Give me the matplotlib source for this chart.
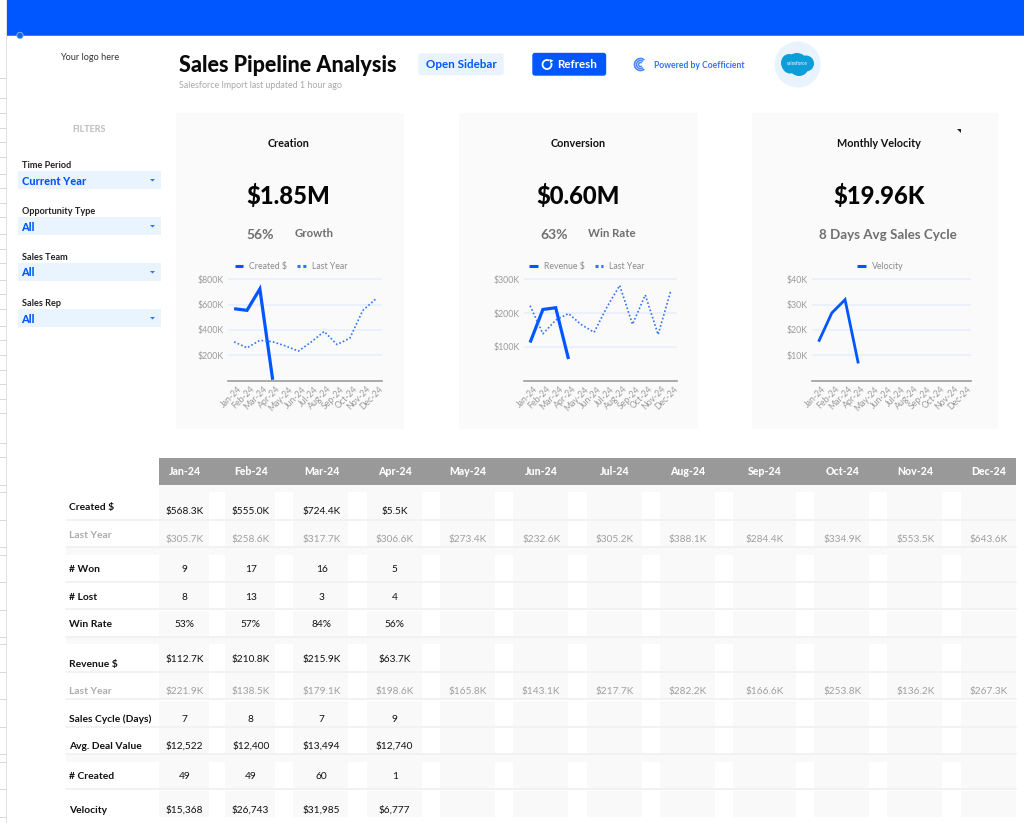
from __future__ import annotations

import matplotlib

matplotlib.use("Agg")
import matplotlib.pyplot as plt
from matplotlib.patches import Arc, Circle, Ellipse, FancyBboxPatch, Polygon, Rectangle
from matplotlib.transforms import ScaledTranslation

plt.rcParams["font.family"] = ["Lato", "DejaVu Sans"]

WIDTH, HEIGHT = 1024, 823
BLUE = "#0057ff"
LIGHT_BLUE = "#e8f3fe"
DARK = "#111111"
GREY = "#6f6f6f"
PALE = "#ababab"

MONTHS = ["Jan-24", "Feb-24", "Mar-24", "Apr-24", "May-24", "Jun-24",
          "Jul-24", "Aug-24", "Sep-24", "Oct-24", "Nov-24", "Dec-24"]

# chart values, in dollars
created = [568300, 555000, 724400, 5500]
created_last_year = [305700, 258600, 317700, 306600, 273400, 232600,
                     305200, 388100, 284400, 334900, 553500, 643600]
revenue = [112700, 210800, 215900, 63700]
revenue_last_year = [221900, 138500, 179100, 198600, 165800, 143100,
                     217700, 282200, 166600, 253800, 136200, 267300]
velocity = [15368, 26743, 31985, 6777]

# table rows
row_labels = ["Created $", "Last Year", "# Won", "# Lost", "Win Rate", "Revenue $",
              "Last Year", "Sales Cycle (Days)", "Avg. Deal Value", "# Created", "Velocity"]
row_values = [
    ["$568.3K", "$555.0K", "$724.4K", "$5.5K"],
    ["$305.7K", "$258.6K", "$317.7K", "$306.6K", "$273.4K", "$232.6K",
     "$305.2K", "$388.1K", "$284.4K", "$334.9K", "$553.5K", "$643.6K"],
    ["9", "17", "16", "5"],
    ["8", "13", "3", "4"],
    ["53%", "57%", "84%", "56%"],
    ["$112.7K", "$210.8K", "$215.9K", "$63.7K"],
    ["$221.9K", "$138.5K", "$179.1K", "$198.6K", "$165.8K", "$143.1K",
     "$217.7K", "$282.2K", "$166.6K", "$253.8K", "$136.2K", "$267.3K"],
    ["7", "8", "7", "9"],
    ["$12,522", "$12,400", "$13,494", "$12,740"],
    ["49", "49", "60", "1"],
    ["$15,368", "$26,743", "$31,985", "$6,777"],
]
label_y = [507, 535, 569.5, 597, 624.5, 664, 691.5, 719, 746.5, 776.5, 810.5]
value_y = [511.5, 539.5, 569.5, 597, 624.5, 659.5, 691.5, 719, 746.5, 776.5, 810.5]

column_x = [184.7, 250.7, 321.7, 394.7, 468, 541.3, 614.7, 688, 765, 842.3, 915.7, 989]
column_bands = [(159, 209), (225, 275), (293, 348), (367, 422), (440, 495), (513, 568),
                (587, 642), (660, 715), (733, 796), (814, 869), (887, 942), (961, 1016)]
row_bands = [(492, 519), (521, 546.5), (555, 581), (583, 608.5), (610.5, 636),
             (644, 671), (673, 698.5), (700.5, 726), (728, 753.5), (762, 788.5), (790.5, 817)]
spacers = [(547, 555), (636, 644), (754, 762)]
row_lines = [519.5, 547, 581.7, 609.3, 637, 671.5, 699.2, 727, 754.3, 789]

sheet_lines = [77.7, 98, 113, 127.7, 142, 157, 173.7, 188, 203, 217, 234, 248.7, 263, 280,
               294, 309, 325.7, 340, 355, 369.7, 384, 399, 413, 442.7, 457, 485, 492, 519.7,
               547, 554.7, 582, 610, 637, 644, 672, 699, 727, 754, 762, 789, 817]

filter_names = ["Time Period", "Opportunity Type", "Sales Team", "Sales Rep"]
filter_choices = ["Current Year", "All", "All", "All"]
filter_y = [171, 217, 263, 309]


def add_panel_chart(fig, left, right, ymax, ticks, tick_labels, series, legend_x):
    """Line chart placed in pixel coordinates, with y=0 on the baseline at 380.5."""
    base, top = 380.5, 279.4
    # a little headroom so the top grid line is not clipped
    head = 1.03
    height = (base - top) * head
    ax = fig.add_axes([left / WIDTH, 1 - base / HEIGHT, (right - left) / WIDTH, height / HEIGHT])
    ax.patch.set_visible(False)
    positions = list(range(12))
    for values, style, line_width, name, color in series:
        ax.plot(positions[:len(values)], values, ls=style, lw=line_width, color=color,
                label=name, solid_capstyle="butt", solid_joinstyle="miter", zorder=3)
    ax.set_xlim(-0.5, 11.5)
    ax.set_ylim(0, ymax * head)
    ax.set_yticks(ticks, tick_labels)
    ax.set_xticks(positions, MONTHS, rotation=45, ha="right", rotation_mode="anchor")
    ax.tick_params(length=0, labelsize=6.3, labelcolor="#9a9a9a", pad=3)
    # month labels sit a little to the right of their points
    nudge = ScaledTranslation(3 / 100, 0, fig.dpi_scale_trans)
    for label in ax.get_xticklabels():
        label.set_transform(label.get_transform() + nudge)
    ax.grid(axis="y", color="#e9f1fd", lw=1.3)
    ax.set_axisbelow(True)
    for side in ["top", "left", "right"]:
        ax.spines[side].set_visible(False)
    ax.spines["bottom"].set_color("#9c9c9c")
    ax.spines["bottom"].set_linewidth(1.2)
    legend = ax.legend(loc="center", bbox_to_anchor=((legend_x - left) / (right - left), (base - 266.5) / height),
                       ncols=2, frameon=False, fontsize=6.3, handlelength=1.0, handletextpad=0.7,
                       columnspacing=1.1, borderpad=0, borderaxespad=0)
    for text in legend.get_texts():
        text.set_color("#8a8a8a")
    for handle in legend.get_lines():
        handle.set_linewidth(2.2)
    if len(series) > 1:
        legend.get_lines()[1].set_linestyle((0, (1, 0.9)))
    return ax


fig = plt.figure(figsize=(WIDTH / 100, HEIGHT / 100), dpi=100, facecolor="white")
page = fig.add_axes([0, 0, 1, 1])
page.set_xlim(0, WIDTH)
page.set_ylim(HEIGHT, 0)
page.axis("off")

# spreadsheet edge
for y in sheet_lines:
    page.plot([0, 6], [y, y], color="#d8d8d8", lw=0.7)
page.add_patch(Rectangle((5.5, 0), 1.5, HEIGHT, color="#e2e2e2", lw=0))

# top band
page.add_patch(Rectangle((6.5, 0), WIDTH, 35, color=BLUE, lw=0))
page.add_patch(Rectangle((6.5, 34.5), WIDTH, 1.2, color="#3b7cff", lw=0))
page.add_patch(Circle((20, 35.5), 3.2, color="#1769e0", ec="#8db7f5", lw=0.6, zorder=4))

# header
page.text(89.5, 57, "Your logo here", ha="center", va="center", fontsize=6.6, color="#333333")
page.text(179, 65, "Sales Pipeline Analysis", ha="left", va="center", fontsize=15.5,
          fontweight="black", color="#0a0a0a")
page.text(179, 85.5, "Salesforce Import last updated 1 hour ago", ha="left", va="center",
          fontsize=6.4, color="#a8a8a8")

page.add_patch(FancyBboxPatch((419, 54), 84, 20.5, boxstyle="round,pad=0,rounding_size=2",
                              fc=LIGHT_BLUE, ec=LIGHT_BLUE, lw=1))
page.text(461, 64.5, "Open Sidebar", ha="center", va="center", fontsize=8.4, fontweight="bold", color=BLUE)
page.add_patch(FancyBboxPatch((533, 53.5), 72.5, 21.5, boxstyle="round,pad=0,rounding_size=2",
                              fc=BLUE, ec=BLUE, lw=1))
page.add_patch(Arc((547, 64.5), 9, 9, theta1=-20, theta2=300, color="white", lw=1.3))
page.add_patch(Polygon([(549.5, 59), (553.5, 60.5), (550, 63)], color="white", lw=0))
page.text(557, 64.5, "Refresh", ha="left", va="center", fontsize=8.4, fontweight="bold", color="white")

# coefficient mark
for size, width in [(12, 1.2), (8, 1.1), (4, 1.1)]:
    page.add_patch(Arc((640.5, 64.5), size, size, theta1=50, theta2=310, color="#4c86f5", lw=width))
page.text(654, 65, "Powered by Coefficient", ha="left", va="center", fontsize=6.2,
          fontweight="bold", color="#2f74f5")

# salesforce badge
page.add_patch(Circle((797.7, 64.5), 23, color=LIGHT_BLUE, lw=0))
for x, y, w, h in [(789, 63, 16, 18), (797, 60, 18, 14), (806, 63.5, 16, 16),
                   (799, 68, 18, 16), (790, 66, 15, 15)]:
    page.add_patch(Ellipse((x, y), w, h, color="#0d9dd9", lw=0))
page.text(797.5, 63.7, "salesforce", ha="center", va="center", fontsize=3.4, color="white")

# filters
page.text(89.5, 129, "FILTERS", ha="center", va="center", fontsize=6.5, fontweight="black", color="#c2c2c2")
for name, choice, y in zip(filter_names, filter_choices, filter_y):
    page.text(21.5, y - 6, name, ha="left", va="center", fontsize=6.6, fontweight="bold", color="#222222")
    page.add_patch(Rectangle((18, y), 142.5, 18, color="#eaf4fe", lw=0))
    page.text(21.5, y + 10, choice, ha="left", va="center", fontsize=7.9, fontweight="black", color=BLUE)
    page.add_patch(Polygon([(150, y + 8), (155, y + 8), (152.5, y + 10.5)], color="#2f74f5", lw=0))

# chart panels
for x0, x1 in [(176, 404), (458.5, 697.5), (752, 998)]:
    page.add_patch(Rectangle((x0, 113), x1 - x0, 316, color="#fafafa", lw=0))
page.add_patch(Polygon([(957, 128.5), (961, 128.5), (961, 132.5)], color="#222222", lw=0))

titles = [("Creation", 288.5, "$1.85M"), ("Conversion", 578, "$0.60M"), ("Monthly Velocity", 879, "$19.96K")]
for title, x, number in titles:
    page.text(x, 143.5, title, ha="center", va="center", fontsize=7.8, fontweight="bold", color=DARK)
    page.text(x, 196, number, ha="center", va="center", fontsize=17.2, fontweight="black", color="#050505")

page.text(260.5, 234.5, "56%", ha="center", va="center", fontsize=10, fontweight="bold", color=GREY)
page.text(314.5, 233.5, "Growth", ha="center", va="center", fontsize=8.2, fontweight="bold", color=GREY)
page.text(554, 234.5, "63%", ha="center", va="center", fontsize=10, fontweight="bold", color=GREY)
page.text(611.5, 233.5, "Win Rate", ha="center", va="center", fontsize=8.2, fontweight="bold", color=GREY)
page.text(888, 234.5, "8 Days Avg Sales Cycle", ha="center", va="center", fontsize=9.6, fontweight="bold", color=GREY)

# table
page.add_patch(Rectangle((159, 457.5), 857, 27, color="#999999", lw=0))
page.add_patch(Rectangle((159, 485), 857, 7, color="#f9f9f9", lw=0))
for x0, x1 in column_bands:
    for y0, y1 in row_bands:
        page.add_patch(Rectangle((x0, y0), x1 - x0, y1 - y0, color="#f9f9f9", lw=0))
for y0, y1 in spacers:
    page.add_patch(Rectangle((66, y0), 950, y1 - y0, color="#f9f9f9", lw=0))
for y in row_lines:
    page.plot([66, 1016], [y, y], color="#efefef", lw=1.1)

for x, month in zip(column_x, MONTHS):
    page.text(x, 471.5, month, ha="center", va="center", fontsize=7.6, fontweight="black", color="white")

for i, label in enumerate(row_labels):
    faded = label == "Last Year"
    page.text(69, label_y[i], label, ha="left", va="center", fontsize=7.4, fontweight="bold",
              color=PALE if faded else DARK)
    for x, value in zip(column_x, row_values[i]):
        page.text(x, value_y[i], value, ha="center", va="center", fontsize=7.3,
                  color="#a0a0a0" if faded else DARK)

# charts
add_panel_chart(fig, 227.7, 382, 800000, [200000, 400000, 600000, 800000],
                ["$200K", "$400K", "$600K", "$800K"],
                [(created, "-", 2.3, "Created $", BLUE),
                 (created_last_year, (0, (1, 1.3)), 1.2, "Last Year", "#2f74f5")], 291)
add_panel_chart(fig, 523.7, 677.3, 300000, [100000, 200000, 300000],
                ["$100K", "$200K", "$300K"],
                [(revenue, "-", 2.3, "Revenue $", BLUE),
                 (revenue_last_year, (0, (1, 1.3)), 1.2, "Last Year", "#2f74f5")], 587)
add_panel_chart(fig, 812, 970.7, 40000, [10000, 20000, 30000, 40000],
                ["$10K", "$20K", "$30K", "$40K"],
                [(velocity, "-", 2.0, "Velocity", BLUE)], 880)

fig.savefig("out.png", dpi=100)
